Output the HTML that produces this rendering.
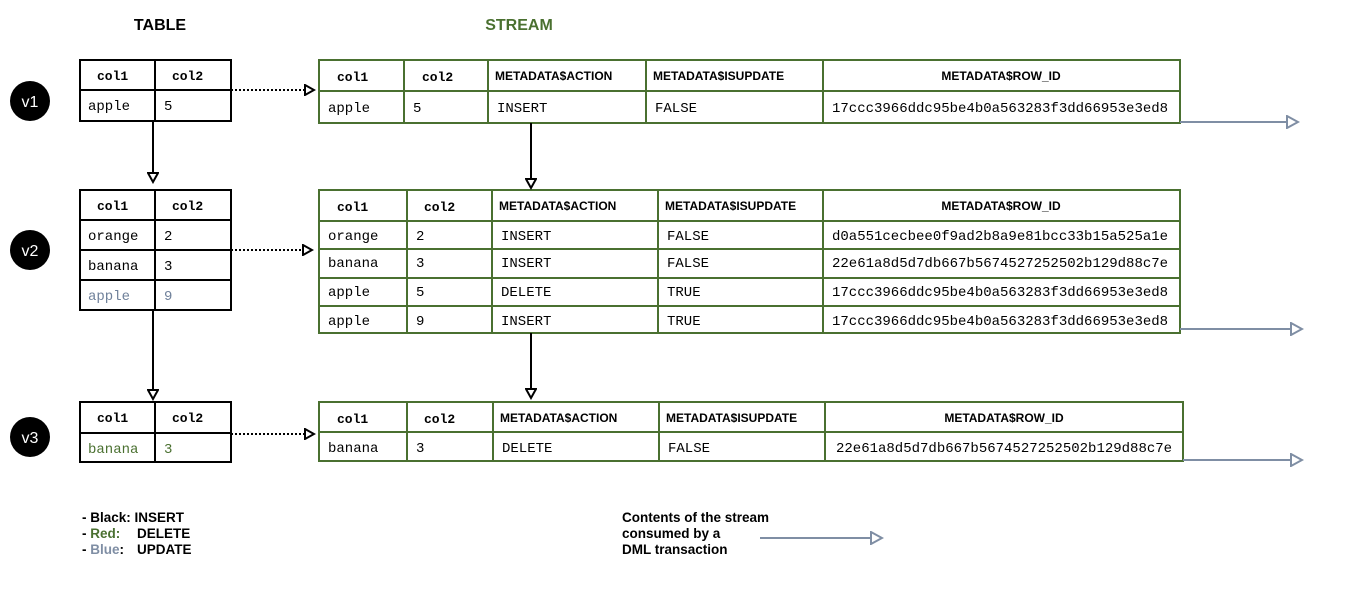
<!DOCTYPE html>
<html><head><meta charset="utf-8"><style>
html,body{margin:0;padding:0;background:#fff}
svg{display:block}
.m{font-family:"Liberation Mono",monospace;font-size:14px}
.mb{font-family:"Liberation Mono",monospace;font-size:13px;font-weight:bold}
.s{font-family:"Liberation Sans",sans-serif;font-size:12px;font-weight:bold}
</style></head><body>
<svg width="1363" height="598" viewBox="0 0 1363 598" xmlns="http://www.w3.org/2000/svg">
<defs>
<marker id="ab" markerWidth="12" markerHeight="12" refX="10" refY="6" orient="auto" markerUnits="userSpaceOnUse"><path d="M1,1 L10,6 L1,11 Z" fill="#fff" stroke="#000" stroke-width="2"/></marker>
<marker id="ag" markerWidth="14" markerHeight="14" refX="12" refY="7" orient="auto" markerUnits="userSpaceOnUse"><path d="M1,1 L12,7 L1,13 Z" fill="#fff" stroke="#7f8ea4" stroke-width="2"/></marker>
</defs>
<text x="160" y="30" text-anchor="middle" font-family="Liberation Sans,sans-serif" font-size="16" font-weight="bold">TABLE</text>
<text x="519" y="30" text-anchor="middle" font-family="Liberation Sans,sans-serif" font-size="16" font-weight="bold" fill="#4a7030">STREAM</text>
<g font-family="Liberation Sans,sans-serif" font-size="16" fill="#fff" text-anchor="middle">
<circle cx="30" cy="101" r="20" fill="#000"/><text x="30" y="107">v1</text>
<circle cx="30" cy="250" r="20" fill="#000"/><text x="30" y="256">v2</text>
<circle cx="30" cy="437" r="20" fill="#000"/><text x="30" y="443">v3</text>
</g>
<g fill="none" stroke="#000" stroke-width="2">
<rect x="80" y="60" width="151" height="61"/><line x1="80" y1="90" x2="231" y2="90"/><line x1="155" y1="60" x2="155" y2="121"/>
<rect x="80" y="190" width="151" height="120"/><line x1="80" y1="220" x2="231" y2="220"/><line x1="80" y1="250" x2="231" y2="250"/><line x1="80" y1="280" x2="231" y2="280"/><line x1="155" y1="190" x2="155" y2="310"/>
<rect x="80" y="402" width="151" height="60"/><line x1="80" y1="433" x2="231" y2="433"/><line x1="155" y1="402" x2="155" y2="462"/>
</g>
<g class="mb"><text x="97" y="80">col1</text><text x="172" y="80">col2</text>
<text x="97" y="210">col1</text><text x="172" y="210">col2</text>
<text x="97" y="422">col1</text><text x="172" y="422">col2</text></g>
<g class="m"><text x="88" y="110">apple</text><text x="164" y="110">5</text>
<text x="88" y="240">orange</text><text x="164" y="240">2</text>
<text x="88" y="270">banana</text><text x="164" y="270">3</text>
<text x="88" y="300" fill="#6f809a">apple</text><text x="164" y="300" fill="#6f809a">9</text>
<text x="88" y="453" fill="#4a7030">banana</text><text x="164" y="453" fill="#4a7030">3</text></g>
<g fill="none" stroke="#4a7030" stroke-width="2">
<rect x="319" y="60" width="861" height="63"/><line x1="319" y1="91" x2="1180" y2="91"/>
<line x1="404" y1="60" x2="404" y2="123"/><line x1="488" y1="60" x2="488" y2="123"/><line x1="646" y1="60" x2="646" y2="123"/><line x1="823" y1="60" x2="823" y2="123"/>
<rect x="319" y="190" width="861" height="143"/><line x1="319" y1="221" x2="1180" y2="221"/><line x1="319" y1="249" x2="1180" y2="249"/><line x1="319" y1="278" x2="1180" y2="278"/><line x1="319" y1="306" x2="1180" y2="306"/>
<line x1="407" y1="190" x2="407" y2="333"/><line x1="492" y1="190" x2="492" y2="333"/><line x1="658" y1="190" x2="658" y2="333"/><line x1="823" y1="190" x2="823" y2="333"/>
<rect x="319" y="402" width="864" height="59"/><line x1="319" y1="432" x2="1183" y2="432"/>
<line x1="407" y1="402" x2="407" y2="461"/><line x1="493" y1="402" x2="493" y2="461"/><line x1="659" y1="402" x2="659" y2="461"/><line x1="825" y1="402" x2="825" y2="461"/>
</g>
<g class="mb"><text x="337" y="81">col1</text><text x="422" y="81">col2</text>
<text x="337" y="211">col1</text><text x="424" y="211">col2</text>
<text x="337" y="423">col1</text><text x="424" y="423">col2</text></g>
<g class="s"><text x="495" y="80">METADATA$ACTION</text><text x="653" y="80">METADATA$ISUPDATE</text><text x="1001" y="80" text-anchor="middle">METADATA$ROW_ID</text>
<text x="499" y="210">METADATA$ACTION</text><text x="665" y="210">METADATA$ISUPDATE</text><text x="1001" y="210" text-anchor="middle">METADATA$ROW_ID</text>
<text x="500" y="422">METADATA$ACTION</text><text x="666" y="422">METADATA$ISUPDATE</text><text x="1004" y="422" text-anchor="middle">METADATA$ROW_ID</text></g>
<g class="m">
<text x="328" y="112">apple</text><text x="413" y="112">5</text><text x="497" y="112">INSERT</text><text x="655" y="112">FALSE</text><text x="832" y="112">17ccc3966ddc95be4b0a563283f3dd66953e3ed8</text>
<text x="328" y="240">orange</text><text x="416" y="240">2</text><text x="501" y="240">INSERT</text><text x="667" y="240">FALSE</text><text x="832" y="240">d0a551cecbee0f9ad2b8a9e81bcc33b15a525a1e</text>
<text x="328" y="267">banana</text><text x="416" y="267">3</text><text x="501" y="267">INSERT</text><text x="667" y="267">FALSE</text><text x="832" y="267">22e61a8d5d7db667b5674527252502b129d88c7e</text>
<text x="328" y="296">apple</text><text x="416" y="296">5</text><text x="501" y="296">DELETE</text><text x="667" y="296">TRUE</text><text x="832" y="296">17ccc3966ddc95be4b0a563283f3dd66953e3ed8</text>
<text x="328" y="325">apple</text><text x="416" y="325">9</text><text x="501" y="325">INSERT</text><text x="667" y="325">TRUE</text><text x="832" y="325">17ccc3966ddc95be4b0a563283f3dd66953e3ed8</text>
<text x="328" y="452">banana</text><text x="416" y="452">3</text><text x="502" y="452">DELETE</text><text x="668" y="452">FALSE</text><text x="836" y="452">22e61a8d5d7db667b5674527252502b129d88c7e</text>
</g>
<g stroke="#000" stroke-width="2" fill="none">
<line x1="231" y1="90" x2="314" y2="90" stroke-dasharray="2,2" marker-end="url(#ab)"/>
<line x1="231" y1="250" x2="312" y2="250" stroke-dasharray="2,2" marker-end="url(#ab)"/>
<line x1="231" y1="434" x2="314" y2="434" stroke-dasharray="2,2" marker-end="url(#ab)"/>
<line x1="153" y1="121" x2="153" y2="182" marker-end="url(#ab)"/>
<line x1="153" y1="310" x2="153" y2="399" marker-end="url(#ab)"/>
<line x1="531" y1="123" x2="531" y2="188" marker-end="url(#ab)"/>
<line x1="531" y1="333" x2="531" y2="398" marker-end="url(#ab)"/>
</g>
<g stroke="#7f8ea4" stroke-width="2" fill="none">
<line x1="1180" y1="122" x2="1298" y2="122" marker-end="url(#ag)"/>
<line x1="1180" y1="329" x2="1302" y2="329" marker-end="url(#ag)"/>
<line x1="1183" y1="460" x2="1302" y2="460" marker-end="url(#ag)"/>
<line x1="760" y1="538" x2="882" y2="538" marker-end="url(#ag)"/>
</g>
<g font-family="Liberation Sans,sans-serif" font-size="13.5" font-weight="bold">
<text x="82" y="522">- Black: INSERT</text>
<text x="82" y="538">- <tspan fill="#4a7030">Red:</tspan><tspan x="137">DELETE</tspan></text>
<text x="82" y="554">- <tspan fill="#7f8ea4">Blue</tspan>:<tspan x="137">UPDATE</tspan></text>
<text x="622" y="522">Contents of the stream</text>
<text x="622" y="538">consumed by a</text>
<text x="622" y="554">DML transaction</text>
</g>
</svg>
</body></html>
